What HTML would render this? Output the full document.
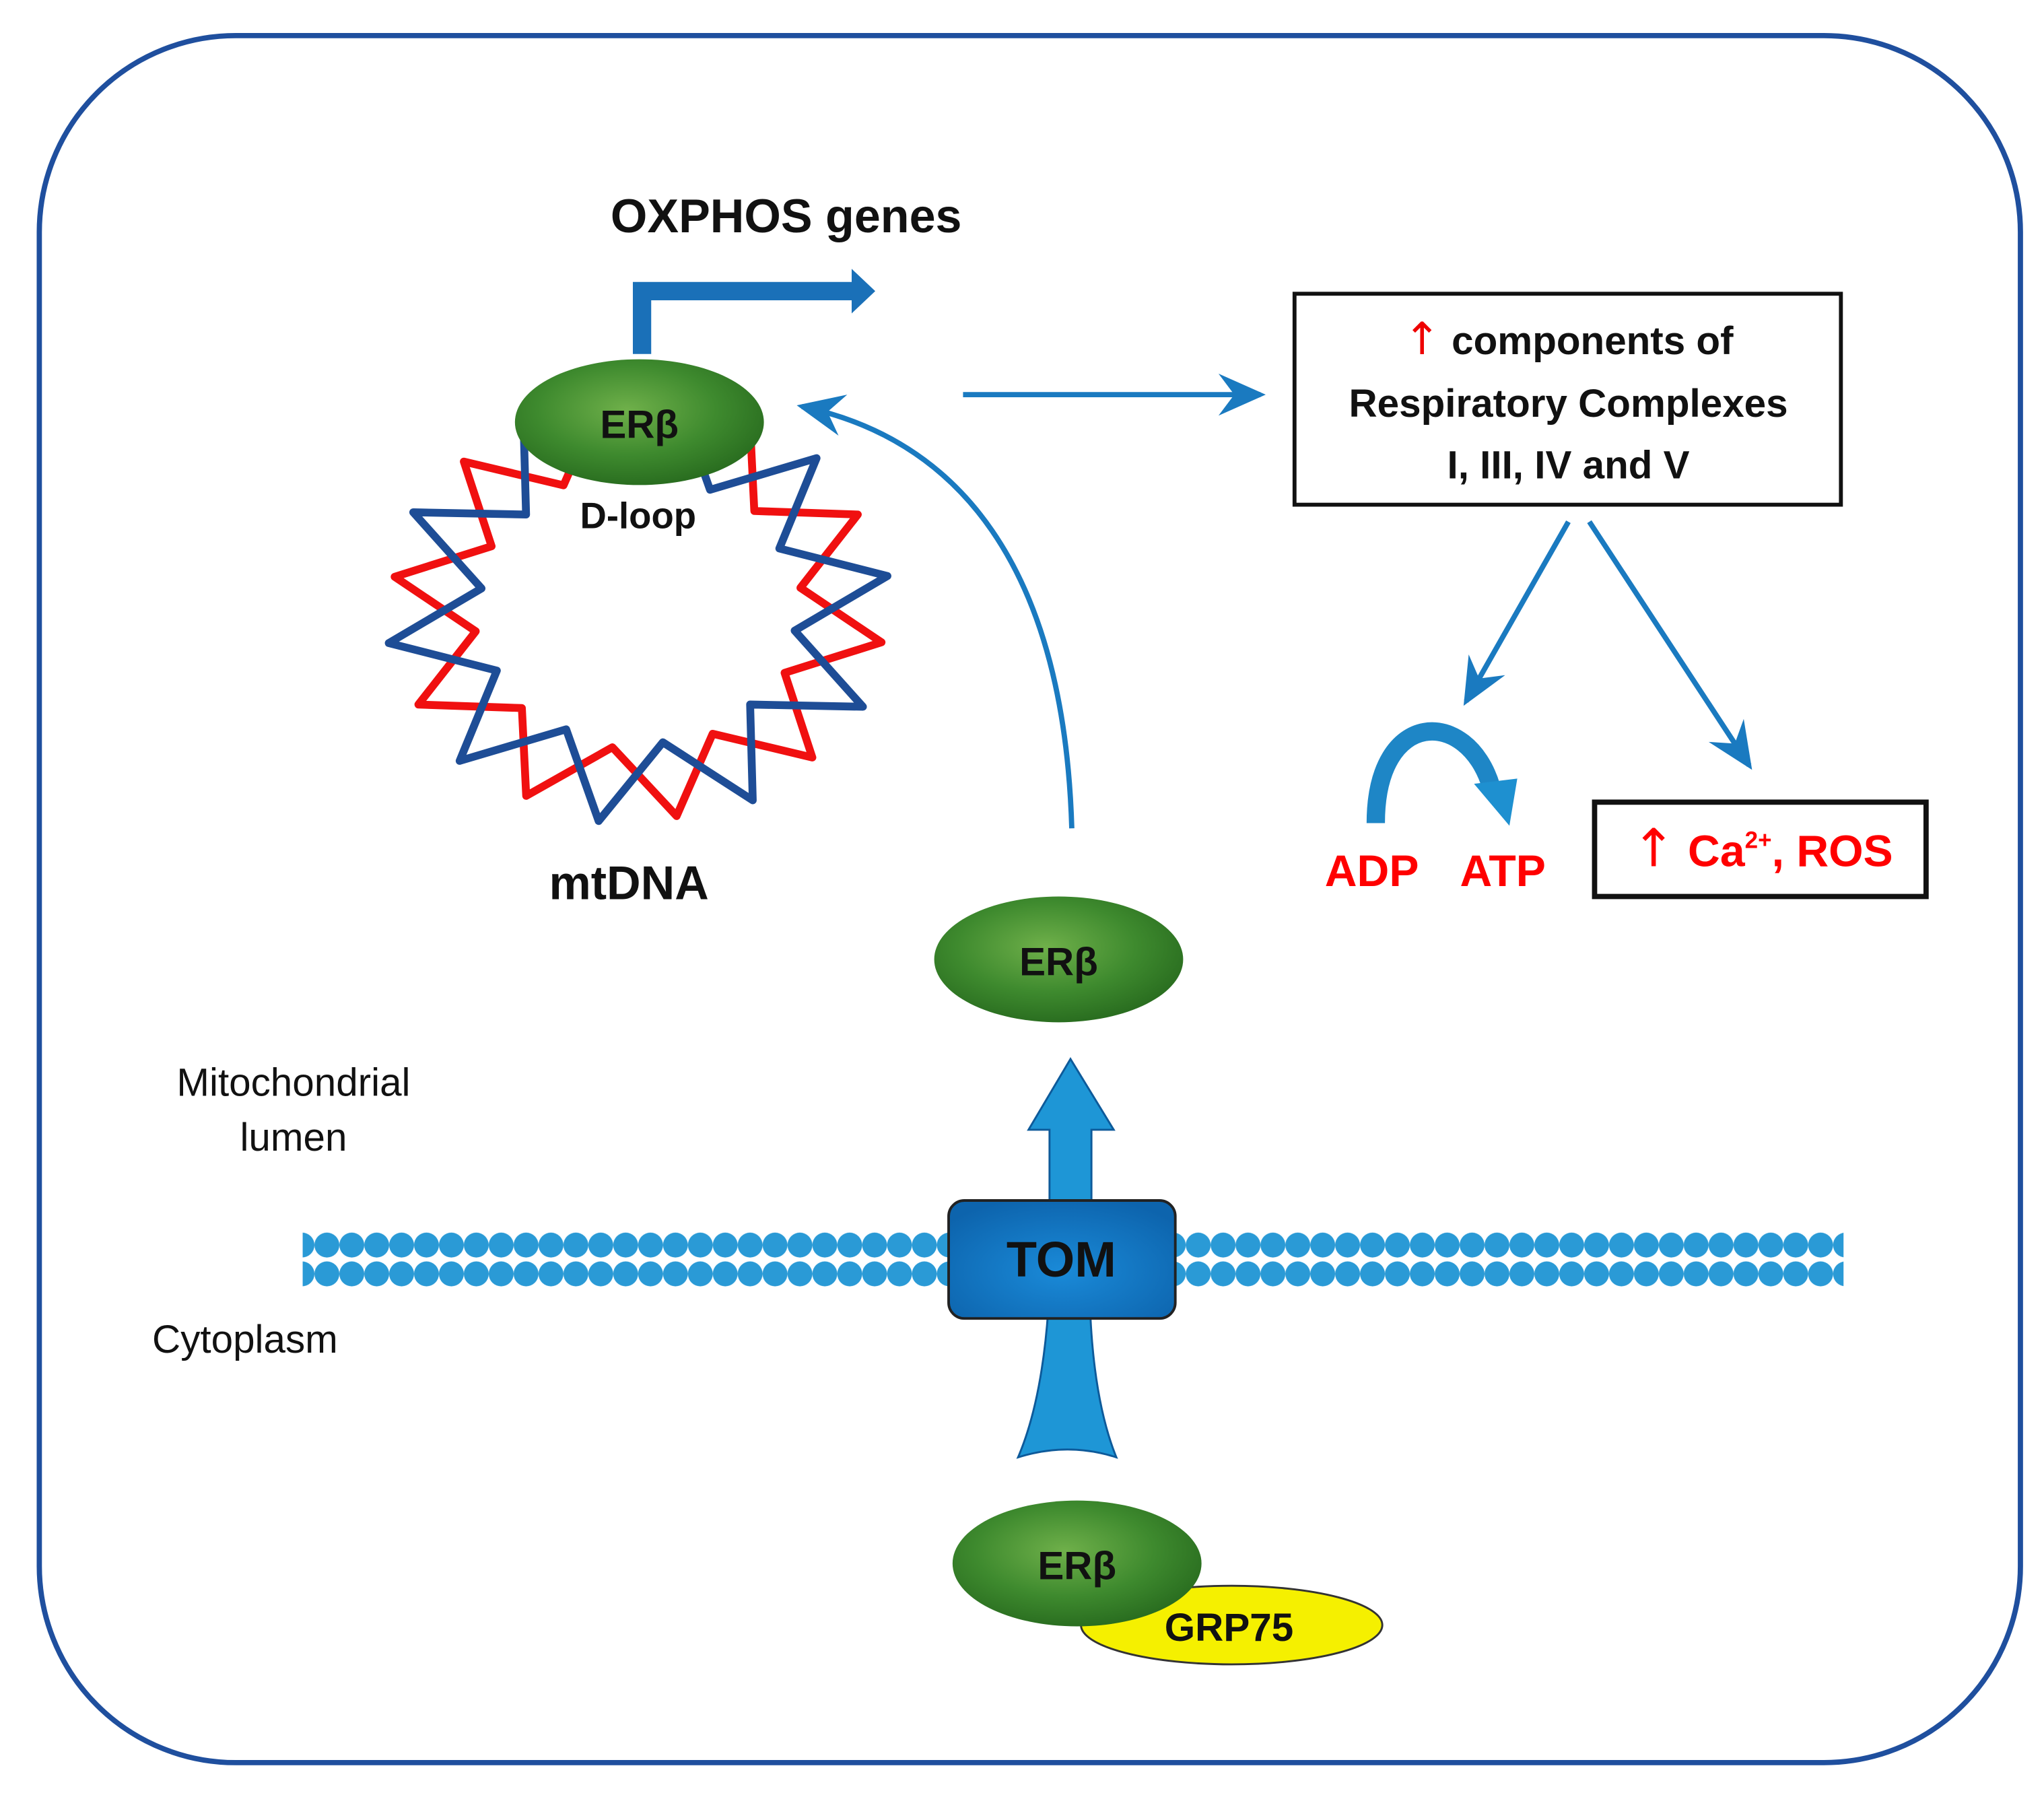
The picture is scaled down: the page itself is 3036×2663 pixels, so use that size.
<!DOCTYPE html>
<html><head><meta charset="utf-8"><style>
html,body{margin:0;padding:0;background:#fff;}
svg{display:block;}
text{font-family:"Liberation Sans",sans-serif;}
</style></head><body>
<svg id="s" width="3036" height="2663" viewBox="0 0 1560 1368" xmlns="http://www.w3.org/2000/svg">
<defs>
<radialGradient id="g" cx="45%" cy="40%" r="60%">
<stop offset="0" stop-color="#6fb04a"/><stop offset="0.6" stop-color="#3e8a2e"/><stop offset="1" stop-color="#2a6e20"/>
</radialGradient>
<radialGradient id="tb" cx="50%" cy="60%" r="65%">
<stop offset="0" stop-color="#1a8ad8"/><stop offset="1" stop-color="#0d64ad"/>
</radialGradient>
<pattern id="dots" x="240" y="939" width="19" height="22" patternUnits="userSpaceOnUse">
<circle cx="9.5" cy="11" r="9.5" fill="#2a9ad6"/>
</pattern>
<marker id="ah" markerWidth="10" markerHeight="10" refX="8" refY="5" orient="auto" markerUnits="strokeWidth">
<path d="M0,1 L9,5 L0,9 L3,5 Z" fill="#1a7ac0"/>
</marker>
</defs>
<rect x="30" y="27" width="1512" height="1318" rx="150" fill="none" stroke="#1f4f9e" stroke-width="4"/>

<text x="600" y="177" font-size="36" font-weight="bold" text-anchor="middle" fill="#111">OXPHOS genes</text>
<path d="M483,270 V215 H650 V205 L668,222 L650,239 V229 H497 V270 Z" fill="#1a70b8"/>

<g id="dna" fill="none" stroke-width="6" stroke-linejoin="round"></g>

<ellipse cx="488" cy="322" rx="95" ry="48" fill="url(#g)"/>
<text x="488" y="334" font-size="30" font-weight="bold" text-anchor="middle" fill="#111">ERβ</text>
<text x="487" y="403" font-size="28" font-weight="bold" text-anchor="middle" fill="#111">D-loop</text>
<text x="480" y="686" font-size="36" font-weight="bold" text-anchor="middle" fill="#111">mtDNA</text>

<path d="M818,632 C812,430 730,335 612,310" fill="none" stroke="#1a7ac0" stroke-width="4" marker-end="url(#ah)"/>
<line x1="735" y1="301" x2="962" y2="301" stroke="#1a7ac0" stroke-width="4" marker-end="url(#ah)"/>

<rect x="988" y="224" width="417" height="161" fill="#fff" stroke="#111" stroke-width="3"/>
<text x="1197" y="270" font-size="30" font-weight="bold" text-anchor="middle" fill="#111"><tspan fill="#e00" font-family="DejaVu Sans" font-weight="normal" font-size="34">↑</tspan> components of</text>
<text x="1197" y="318" font-size="30" font-weight="bold" text-anchor="middle" fill="#111">Respiratory Complexes</text>
<text x="1197" y="365" font-size="30" font-weight="bold" text-anchor="middle" fill="#111">I, III, IV and V</text>

<line x1="1197" y1="398" x2="1119" y2="535" stroke="#1a7ac0" stroke-width="4" marker-end="url(#ah)"/>
<line x1="1213" y1="398" x2="1335" y2="584" stroke="#1a7ac0" stroke-width="4" marker-end="url(#ah)"/>

<path d="M1050,628 C1050,540 1120,540 1138,600" fill="none" stroke="#1e86c6" stroke-width="14"/>
<path d="M1125,598 L1158,594 L1152,630 Z" fill="#1e90d0"/>
<text x="1047" y="676" font-size="34" font-weight="bold" text-anchor="middle" fill="#f00">ADP</text>
<text x="1147" y="676" font-size="34" font-weight="bold" text-anchor="middle" fill="#f00">ATP</text>

<rect x="1217" y="612" width="253" height="72" fill="#fff" stroke="#111" stroke-width="4"/>
<text x="1345" y="661" font-size="34" font-weight="bold" text-anchor="middle" fill="#f00"><tspan font-family="DejaVu Sans" font-weight="normal" font-size="40">↑</tspan> Ca<tspan font-size="18" dy="-14">2+</tspan><tspan dy="14">, ROS</tspan></text>

<ellipse cx="808" cy="732" rx="95" ry="48" fill="url(#g)"/>
<text x="808" y="744" font-size="30" font-weight="bold" text-anchor="middle" fill="#111">ERβ</text>

<text x="224" y="836" font-size="30" text-anchor="middle" fill="#111">Mitochondrial</text>
<text x="224" y="878" font-size="30" text-anchor="middle" fill="#111">lumen</text>
<text x="187" y="1032" font-size="30" text-anchor="middle" fill="#111">Cytoplasm</text>

<rect x="231" y="939" width="1176" height="44" fill="url(#dots)"/>

<path d="M801,925 V862 H785 L817,808 L850,862 H833 V925 Z" fill="#1e96d6" stroke="#0d5a9a" stroke-width="1.5"/>
<path d="M800,1000 Q795,1070 777,1112 Q815,1100 852,1112 Q835,1070 832,1000 Z" fill="#1e96d6" stroke="#0d5a9a" stroke-width="1.5"/>
<rect x="724" y="916" width="173" height="90" rx="12" fill="url(#tb)" stroke="#222" stroke-width="2"/>
<text x="810" y="974" font-size="38" font-weight="bold" text-anchor="middle" fill="#111">TOM</text>

<ellipse cx="940" cy="1240" rx="115" ry="30" fill="#f5f000" stroke="#333" stroke-width="1.5"/>
<ellipse cx="822" cy="1193" rx="95" ry="48" fill="url(#g)"/>
<text x="822" y="1205" font-size="30" font-weight="bold" text-anchor="middle" fill="#111">ERβ</text>
<text x="938" y="1252" font-size="30" font-weight="bold" text-anchor="middle" fill="#111">GRP75</text>
</svg>
<script>
(function(){
var g=document.getElementById('dna');
function star(color,phase,ro,ri){
 var n=10,pts=[];
 for(var i=0;i<2*n;i++){
  var a=phase+i*Math.PI/n; var r=(i%2==0)?ro:ri;
  pts.push((487+1.12*r*Math.sin(a)).toFixed(1)+','+(465-0.95*r*Math.cos(a)).toFixed(1));
 }
 var p=document.createElementNS('http://www.w3.org/2000/svg','polygon');
 p.setAttribute('points',pts.join(' '));p.setAttribute('stroke',color);
 g.appendChild(p);
}
star('#f01010',Math.PI/10*0.5+Math.PI/10,168,112);
star('#1e4d96',Math.PI/10*0.5,172,108);
})();
</script>
</body></html>
